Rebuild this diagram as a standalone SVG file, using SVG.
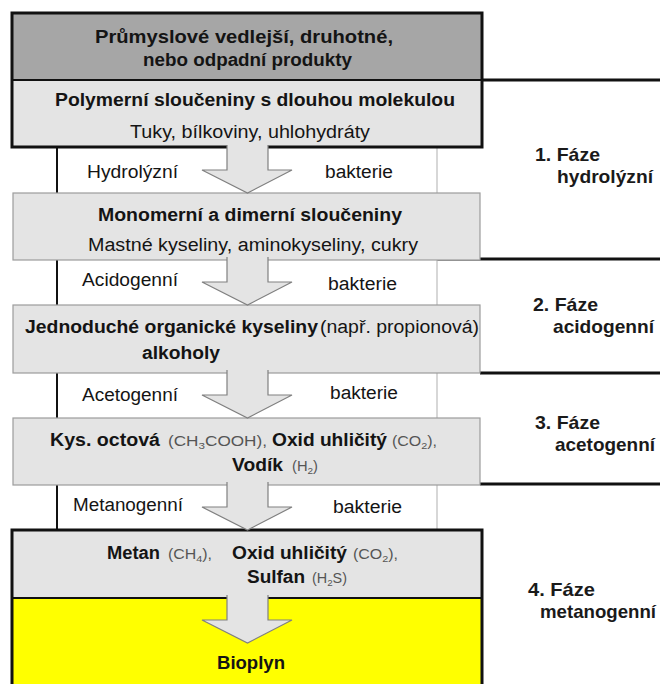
<svg xmlns="http://www.w3.org/2000/svg" width="660" height="684" viewBox="0 0 660 684">
<style>
text{font-family:"Liberation Sans",Arial,sans-serif;fill:#141414}
.b{font-weight:bold;font-size:18px}
.r{font-size:18px}
.f{font-size:14px;fill:#555}
.sub{font-size:9.5px}
.ph{font-weight:bold;font-size:19px;fill:#1a1a1a}
.box{fill:#e4e4e4;stroke:#9c9c9c;stroke-width:1.2}
.heavy{fill:none;stroke:#111;stroke-width:3}
.gap{fill:#fff}
.gl{stroke:#111;stroke-width:2}
.gr{stroke:#bdbdbd;stroke-width:1.2}
.rule{stroke:#111;stroke-width:3}
.af{fill:#e4e4e4}
.ao{fill:none;stroke:#808080;stroke-width:1.2;stroke-linejoin:miter}
</style>
<defs>
<g id="arrow">
<path class="af" d="M227,-3 H268 V22 H292 L247.5,45 L202,22 H227 Z"/>
<path class="ao" d="M227,-3 V22 H202 L247.5,45 L292,22 H268 V-3"/>
</g>
</defs>
<rect width="660" height="684" fill="#fff"/>

<g id="phase-rules">
<line class="rule" x1="482" y1="80" x2="660" y2="80"/>
<line class="rule" x1="437" y1="259" x2="660" y2="259"/>
<line class="rule" x1="480" y1="373" x2="660" y2="373"/>
<line class="rule" x1="480" y1="484" x2="660" y2="484"/>
</g>

<g id="bacteria-hydrolytic">
<rect class="gap" x="57" y="147" width="380" height="46"/>
<line class="gl" x1="57" y1="147" x2="57" y2="193"/>
<line class="gr" x1="437" y1="147" x2="437" y2="193"/>
<text class="r" x="87" y="178" textLength="91" lengthAdjust="spacingAndGlyphs">Hydrolýzní</text>
<text class="r" x="325" y="178" textLength="68" lengthAdjust="spacingAndGlyphs">bakterie</text>
</g>
<g id="bacteria-acidogenic">
<rect class="gap" x="57" y="260" width="380" height="45"/>
<line class="gl" x1="57" y1="260" x2="57" y2="305"/>
<line class="gr" x1="437" y1="260" x2="437" y2="305"/>
<text class="r" x="82" y="286" textLength="96" lengthAdjust="spacingAndGlyphs">Acidogenní</text>
<text class="r" x="328" y="290" textLength="69" lengthAdjust="spacingAndGlyphs">bakterie</text>
</g>
<g id="bacteria-acetogenic">
<rect class="gap" x="57" y="373" width="380" height="45"/>
<line class="gl" x1="57" y1="373" x2="57" y2="418"/>
<line class="gr" x1="437" y1="373" x2="437" y2="418"/>
<text class="r" x="82" y="401" textLength="96" lengthAdjust="spacingAndGlyphs">Acetogenní</text>
<text class="r" x="330" y="399" textLength="68" lengthAdjust="spacingAndGlyphs">bakterie</text>
</g>
<g id="bacteria-methanogenic">
<rect class="gap" x="57" y="485" width="380" height="45"/>
<line class="gl" x1="57" y1="485" x2="57" y2="530"/>
<line class="gr" x1="437" y1="485" x2="437" y2="530"/>
<text class="r" x="73" y="511" textLength="110" lengthAdjust="spacingAndGlyphs">Metanogenní</text>
<text class="r" x="333" y="513" textLength="69" lengthAdjust="spacingAndGlyphs">bakterie</text>
</g>

<g id="node-source">
<rect x="12" y="13" width="470" height="67" fill="#a6a6a6"/>
</g>
<g id="node-polymer">
<rect x="12" y="80" width="470" height="67" fill="#e4e4e4"/>
</g>
<rect class="heavy" x="12" y="13" width="470" height="134"/>
<line x1="12" y1="80" x2="482" y2="80" stroke="#111" stroke-width="2"/>

<g id="node-monomer">
<rect class="box" x="13" y="193" width="467" height="67"/>
</g>
<g id="node-acids">
<rect class="box" x="13" y="305" width="467" height="68"/>
</g>
<g id="node-acetic">
<rect class="box" x="13" y="418" width="467" height="67"/>
</g>
<g id="node-methane">
<rect x="12" y="530" width="470" height="68" fill="#e4e4e4"/>
</g>
<g id="node-biogas">
<rect x="12" y="598" width="470" height="100" fill="#ffff00"/>
</g>
<rect class="heavy" x="12" y="530" width="470" height="170"/>
<line x1="12" y1="598" x2="482" y2="598" stroke="#111" stroke-width="1.8"/>

<g id="connectors">
<use href="#arrow" transform="translate(0,148)"/>
<use href="#arrow" transform="translate(0,260)"/>
<use href="#arrow" transform="translate(0,373)"/>
<use href="#arrow" transform="translate(0,485)"/>
<use href="#arrow" transform="translate(0,598)"/>
</g>

<g id="labels-source">
<text class="b" x="95" y="43" textLength="298" lengthAdjust="spacingAndGlyphs">Průmyslové vedlejší, druhotné,</text>
<text class="b" x="143" y="66" textLength="209" lengthAdjust="spacingAndGlyphs">nebo odpadní produkty</text>
</g>
<g id="labels-polymer">
<text class="b" x="55" y="106" textLength="400" lengthAdjust="spacingAndGlyphs">Polymerní sloučeniny s dlouhou molekulou</text>
<text class="r" x="130" y="138" textLength="240" lengthAdjust="spacingAndGlyphs">Tuky, bílkoviny, uhlohydráty</text>
</g>
<g id="labels-monomer">
<text class="b" x="98" y="221" textLength="304" lengthAdjust="spacingAndGlyphs">Monomerní a dimerní sloučeniny</text>
<text class="r" x="88" y="251" textLength="330" lengthAdjust="spacingAndGlyphs">Mastné kyseliny, aminokyseliny, cukry</text>
</g>
<g id="labels-acids">
<text class="b" x="25" y="333" textLength="293" lengthAdjust="spacingAndGlyphs">Jednoduché organické kyseliny</text>
<text class="r" x="320" y="333" textLength="159" lengthAdjust="spacingAndGlyphs">(např. propionová)</text>
<text class="b" x="142" y="359" textLength="78" lengthAdjust="spacingAndGlyphs">alkoholy</text>
</g>
<g id="labels-acetic">
<text class="b" x="50" y="446" textLength="110" lengthAdjust="spacingAndGlyphs">Kys. octová</text>
<text class="f" x="168" y="446" textLength="99" lengthAdjust="spacingAndGlyphs">(CH<tspan class="sub" dy="2.5">3</tspan><tspan dy="-2.5">COOH),</tspan></text>
<text class="b" x="272" y="446" textLength="115" lengthAdjust="spacingAndGlyphs">Oxid uhličitý</text>
<text class="f" x="392" y="446" textLength="45" lengthAdjust="spacingAndGlyphs">(CO<tspan class="sub" dy="2.5">2</tspan><tspan dy="-2.5">),</tspan></text>
<text class="b" x="232" y="471" textLength="51" lengthAdjust="spacingAndGlyphs">Vodík</text>
<text class="f" x="292" y="471" textLength="26" lengthAdjust="spacingAndGlyphs">(H<tspan class="sub" dy="2.5">2</tspan><tspan dy="-2.5">)</tspan></text>
</g>
<g id="labels-methane">
<text class="b" x="107" y="559" textLength="53" lengthAdjust="spacingAndGlyphs">Metan</text>
<text class="f" x="168" y="559" textLength="44" lengthAdjust="spacingAndGlyphs">(CH<tspan class="sub" dy="2.5">4</tspan><tspan dy="-2.5">),</tspan></text>
<text class="b" x="232" y="559" textLength="115" lengthAdjust="spacingAndGlyphs">Oxid uhličitý</text>
<text class="f" x="353" y="559" textLength="45" lengthAdjust="spacingAndGlyphs">(CO<tspan class="sub" dy="2.5">2</tspan><tspan dy="-2.5">),</tspan></text>
<text class="b" x="247" y="583" textLength="58" lengthAdjust="spacingAndGlyphs">Sulfan</text>
<text class="f" x="312" y="583" textLength="35" lengthAdjust="spacingAndGlyphs">(H<tspan class="sub" dy="2.5">2</tspan><tspan dy="-2.5">S)</tspan></text>
</g>
<g id="labels-biogas">
<text class="b" x="217" y="669" textLength="68" lengthAdjust="spacingAndGlyphs">Bioplyn</text>
</g>

<g id="phase-1">
<text class="ph" x="535" y="161" textLength="65" lengthAdjust="spacingAndGlyphs">1. Fáze</text>
<text class="ph" x="557" y="183" textLength="96" lengthAdjust="spacingAndGlyphs">hydrolýzní</text>
</g>
<g id="phase-2">
<text class="ph" x="533" y="311" textLength="65" lengthAdjust="spacingAndGlyphs">2. Fáze</text>
<text class="ph" x="553" y="333" textLength="101" lengthAdjust="spacingAndGlyphs">acidogenní</text>
</g>
<g id="phase-3">
<text class="ph" x="535" y="429" textLength="65" lengthAdjust="spacingAndGlyphs">3. Fáze</text>
<text class="ph" x="555" y="451" textLength="100" lengthAdjust="spacingAndGlyphs">acetogenní</text>
</g>
<g id="phase-4">
<text class="ph" x="528" y="596" textLength="67" lengthAdjust="spacingAndGlyphs">4. Fáze</text>
<text class="ph" x="540" y="618" textLength="116" lengthAdjust="spacingAndGlyphs">metanogenní</text>
</g>
</svg>
